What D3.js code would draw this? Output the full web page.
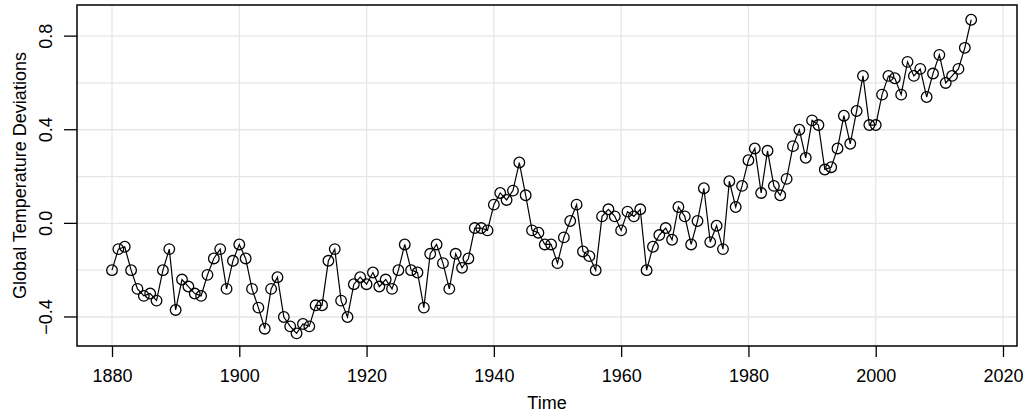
<!DOCTYPE html>
<html><head><meta charset="utf-8">
<script src="https://cdn.jsdelivr.net/npm/d3@7"></script>
<style>body{margin:0;background:#fff}</style>
</head><body><div id="graph"></div>
<script>
var startYear = 1880;
var temps = [-0.20,-0.11,-0.10,-0.20,-0.28,-0.31,-0.30,-0.33,-0.20,-0.11,
 -0.37,-0.24,-0.27,-0.30,-0.31,-0.22,-0.15,-0.11,-0.28,-0.16,
 -0.09,-0.15,-0.28,-0.36,-0.45,-0.28,-0.23,-0.40,-0.44,-0.47,
 -0.43,-0.44,-0.35,-0.35,-0.16,-0.11,-0.33,-0.40,-0.26,-0.23,
 -0.26,-0.21,-0.27,-0.24,-0.28,-0.20,-0.09,-0.20,-0.21,-0.36,
 -0.13,-0.09,-0.17,-0.28,-0.13,-0.19,-0.15,-0.02,-0.02,-0.03,
 0.08,0.13,0.10,0.14,0.26,0.12,-0.03,-0.04,-0.09,-0.09,
 -0.17,-0.06,0.01,0.08,-0.12,-0.14,-0.20,0.03,0.06,0.03,
 -0.03,0.05,0.03,0.06,-0.20,-0.10,-0.05,-0.02,-0.07,0.07,
 0.03,-0.09,0.01,0.15,-0.08,-0.01,-0.11,0.18,0.07,0.16,
 0.27,0.32,0.13,0.31,0.16,0.12,0.19,0.33,0.40,0.28,
 0.44,0.42,0.23,0.24,0.32,0.46,0.34,0.48,0.63,0.42,
 0.42,0.55,0.63,0.62,0.55,0.69,0.63,0.66,0.54,0.64,
 0.72,0.60,0.63,0.66,0.75,0.87];
var xTicks = [1880,1900,1920,1940,1960,1980,2000,2020];
var yTicks = [-0.4,0.0,0.4,0.8];
var yGrid = [-0.4,-0.2,0,0.2,0.4,0.6,0.8];

var data = temps.map(function(v,i){ return {year: startYear+i, value: v}; });

var L = 77, R = 1017, T = 5, B = 346;
var svg = d3.select('#graph').append('svg').attr('width',1027).attr('height',415)
  .style('font-family','Liberation Sans, Arial, sans-serif');

var x = d3.scaleLinear().domain([1874.5,2022.2]).range([L,R]);
var y = d3.scaleLinear().domain([-0.524,0.933]).range([B,T]);

// grid
svg.selectAll('.gx').data(xTicks).enter().append('line')
  .attr('x1',d=>x(d)).attr('x2',d=>x(d)).attr('y1',T).attr('y2',B)
  .style('stroke','#e6e6e6').style('stroke-width',1.3);
svg.selectAll('.gy').data(yGrid).enter().append('line')
  .attr('x1',L).attr('x2',R).attr('y1',d=>y(d)).attr('y2',d=>y(d))
  .style('stroke','#e6e6e6').style('stroke-width',1.3);

svg.append('rect').attr('x',L).attr('y',T).attr('width',R-L).attr('height',B-T)
  .style('fill','none').style('stroke','#000').style('stroke-width',1.5);

var xa = svg.append('g').attr('transform','translate(0,'+B+')')
  .call(d3.axisBottom(x).tickValues(xTicks).tickFormat(d3.format('d')).tickSize(11).tickPadding(12));
xa.select('.domain').remove();
xa.selectAll('line').style('stroke-width',1.3);
xa.selectAll('text').style('font-size','18px');

// y axis: ticks outside, rotated labels
svg.selectAll('.ytick').data(yTicks).enter().append('line')
  .attr('x1',L-13).attr('x2',L).attr('y1',d=>y(d)).attr('y2',d=>y(d))
  .style('stroke','#000').style('stroke-width',1.3);
svg.selectAll('.ylab').data(yTicks).enter().append('text')
  .attr('transform',d=>'translate(52,'+y(d)+') rotate(-90)')
  .attr('text-anchor','middle').style('font-size','18px')
  .text(d3.format('.1f'));

svg.append('text').attr('x',(L+R)/2).attr('y',409).attr('text-anchor','middle')
  .style('font-size','18px').text('Time');
svg.append('text').attr('transform','translate(26,'+((T+B)/2)+') rotate(-90)')
  .attr('text-anchor','middle').style('font-size','18px').text('Global Temperature Deviations');

svg.append('path').datum(data)
  .attr('d',d3.line().x(d=>x(d.year)).y(d=>y(d.value)))
  .style('fill','none').style('stroke','#000').style('stroke-width',1.2);
svg.selectAll('circle').data(data).enter().append('circle')
  .attr('cx',d=>x(d.year)).attr('cy',d=>y(d.value)).attr('r',5.3)
  .style('fill','none').style('stroke','#000').style('stroke-width',1.3);
</script></body></html>
